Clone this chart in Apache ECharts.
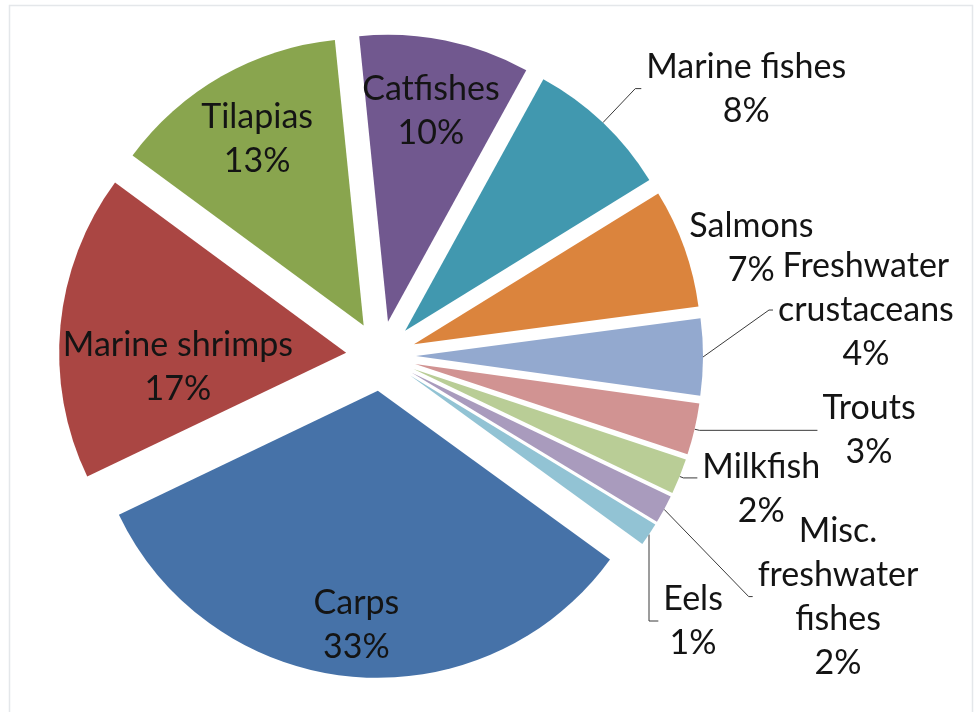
<!DOCTYPE html>
<html><head><meta charset="utf-8">
<script src="https://cdn.jsdelivr.net/npm/echarts@6/dist/echarts.min.js"></script>
<style>html,body{margin:0;padding:0;background:#fff}#chart{width:979px;height:712px}</style>
</head><body><div id="chart"></div>
<script>
// Species groups (clockwise, first slice = Carps), '\n' marks label line breaks
const categories = ['Carps', 'Marine shrimps', 'Tilapias', 'Catfishes', 'Marine fishes', 'Salmons',
  'Freshwater\ncrustaceans', 'Trouts', 'Milkfish', 'Misc.\nfreshwater\nfishes', 'Eels'];
// Shares of production (%)
const shares = [32.9, 17.2, 13.3, 9.6, 8.2, 6.7, 4.3, 2.9, 2.0, 1.6, 1.3];

const colors = ['#4672A8', '#AA4643', '#89A54E', '#71588F', '#4198AF', '#DB843D',
  '#93A9CF', '#D19392', '#B9CD96', '#A99BBD', '#92C3D4'];
const insideFar = ['Carps'];
const insideMid = ['Tilapias', 'Catfishes'];
const insideNear = ['Marine shrimps'];

const FONT = 'Lato';
const rich = { c: { align: 'center', fontFamily: FONT, fontSize: 34, lineHeight: 44, color: '#141414' } };
const fmt = p => p.name.split('\n').concat(p.percent + '%').map(s => '{c|' + s + '}').join('\n');

// per-label line lengths for outside labels [length, length2, showLine]
const lineCfg = {
  'Marine fishes': [47, 6, true],
  'Salmons': [0, 0, false],
  'Freshwater\ncrustaceans': [8, 62, true],
  'Trouts': [5, 118, true],
  'Milkfish': [4, 14, true],
  'Misc.\nfreshwater\nfishes': [95, 5, true],
  'Eels': [10, 5, true]
};
// label shifts from the library's default outside placement, and leader-line style after the shift
const nudge = {
  'Freshwater\ncrustaceans': [0, -47, 'diag'],
  'Milkfish': [0, 11, 'keep'],
  'Misc.\nfreshwater\nfishes': [0, 42, 'diag'],
  'Eels': [-4, 81, 'drop']
};

const common = {
  type: 'pie', center: [381, 356], startAngle: -36, clockwise: true,
  selectedMode: 'multiple', selectedOffset: 35, percentPrecision: 0,
  avoidLabelOverlap: false, animation: false,
  emphasis: { disabled: true }, select: { itemStyle: { borderWidth: 0 } }
};

const mainData = categories.map((n, i) => {
  const d = { name: n, value: shares[i], selected: true, itemStyle: { color: colors[i] } };
  if (lineCfg[n]) {
    d.labelLine = { show: lineCfg[n][2], length: lineCfg[n][0], length2: lineCfg[n][1] };
  } else {
    d.label = { show: false };
    d.labelLine = { show: false };
  }
  return d;
});

function overlay(name, inner, showList, shiftY) {
  return Object.assign({}, common, {
    name: name, radius: [inner, 287], silent: true,
    data: categories.map((n, i) => ({
      name: n, value: shares[i], selected: true,
      itemStyle: { color: 'rgba(0,0,0,0)' },
      label: { show: showList.indexOf(n) >= 0 }
    })),
    label: { show: true, position: 'inside', formatter: fmt, rich: rich },
    labelLine: { show: false },
    labelLayout: function () { return { dy: shiftY }; }
  });
}

const option = {
  backgroundColor: '#ffffff',
  graphic: [{
    type: 'rect', silent: true, z: -10,
    shape: { x: 9.5, y: 5.5, width: 963, height: 720 },
    style: { fill: 'none', stroke: '#e4e7ea', lineWidth: 1.5 }
  }],
  series: [
    Object.assign({}, common, {
      name: 'main', radius: 287, data: mainData,
      label: { show: true, position: 'outside', formatter: fmt, rich: rich, distanceToLabelLine: 5 },
      labelLine: { show: true, smooth: false, lineStyle: { color: '#3a3a3a', width: 1 } },
      labelLayout: function (p) {
        const m = nudge[categories[p.dataIndex]];
        if (!m) return;
        const res = { dx: m[0], dy: m[1] };
        const pts = p.labelLinePoints;
        if (pts && m[2] !== 'keep') {
          const start = [pts[0][0], pts[0][1]];
          const end = [pts[2][0] + m[0], pts[2][1] + m[1]];
          const mid = m[2] === 'drop' ? [start[0], end[1]] : [end[0] - 4, end[1]];
          res.labelLinePoints = [start, mid, end];
        }
        return res;
      }
    }),
    overlay('labelsFar', 177, insideFar, 0),
    overlay('labelsMid', 137, insideMid, 0),
    overlay('labelsNear', 45, insideNear, 30)
  ]
};
const chart = echarts.init(document.getElementById('chart'), null, { renderer: 'canvas' });
chart.setOption(option);
</script>
</body></html>
